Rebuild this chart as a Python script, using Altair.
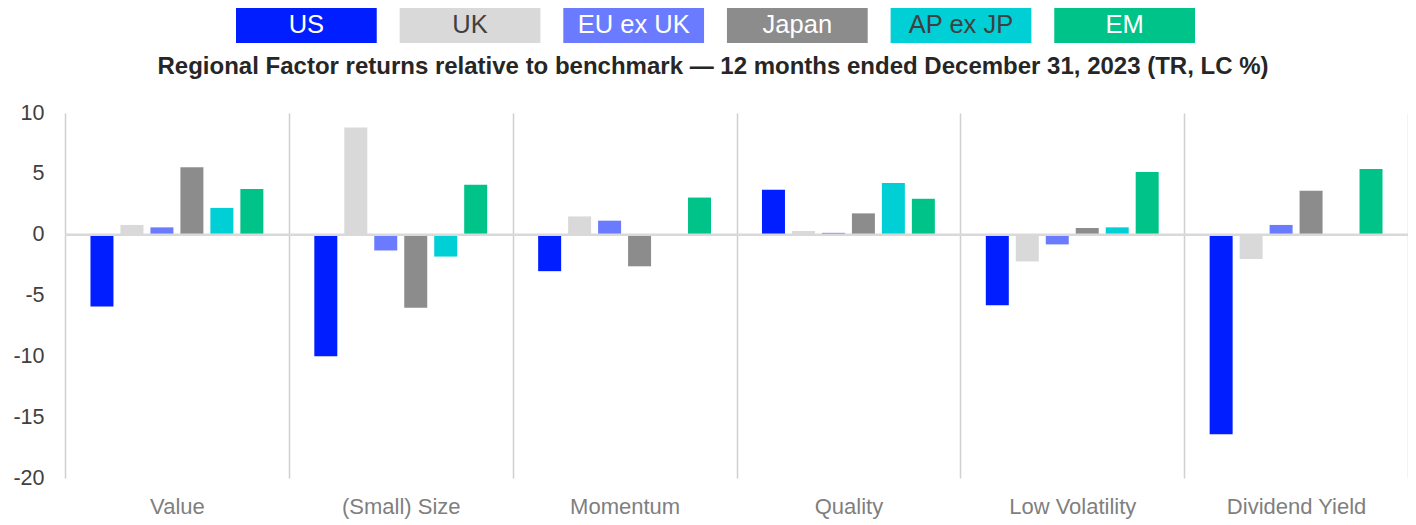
import altair as alt
import pandas as pd

FACTORS = ["Value", "(Small) Size", "Momentum", "Quality", "Low Volatility", "Dividend Yield"]
REGIONS = ["US", "UK", "EU ex UK", "Japan", "AP ex JP", "EM"]
COLORS = ["#001EFF", "#D9D9D9", "#6B7BFF", "#8C8C8C", "#00CFD6", "#00C389"]

US = [-5.9, -10.0, -3.0, 3.7, -5.8, -16.4]
UK = [0.8, 8.8, 1.5, 0.3, -2.2, -2.0]
EU_EX_UK = [0.6, -1.3, 1.15, 0.15, -0.8, 0.8]
JAPAN = [5.55, -6.0, -2.6, 1.75, 0.55, 3.6]
AP_EX_JP = [2.2, -1.8, None, 4.25, 0.6, None]
EM = [3.75, 4.1, 3.05, 2.95, 5.15, 5.4]

TITLE = "Regional Factor returns relative to benchmark \u2014 12 months ended December 31, 2023 (TR, LC %)"
Y_TICKS = [-20, -15, -10, -5, 0, 5, 10]

series = [US, UK, EU_EX_UK, JAPAN, AP_EX_JP, EM]
rows = []
for reg, vals in zip(REGIONS, series):
    for f, v in zip(FACTORS, vals):
        rows.append({"factor": f, "region": reg, "value": v})
df = pd.DataFrame(rows)
legend_df = pd.DataFrame({"region": REGIONS})

FONT = "Liberation Sans"
W, H = 1343, 365

color_scale = alt.Scale(domain=REGIONS, range=COLORS)
legend_x_scale = alt.Scale(range=[171, 1130], paddingInner=0.14, paddingOuter=0)

bars = alt.Chart(df).mark_bar().encode(
    x=alt.X("factor:N", sort=FACTORS, title=None,
            scale=alt.Scale(paddingInner=0, paddingOuter=0),
            axis=alt.Axis(grid=True, tickBand="extent", gridColor="#D0D0D0", gridWidth=1.5,
                          ticks=False, domain=False, labelAngle=0, labelFontSize=22,
                          labelColor="#7F7F7F", labelFont=FONT, labelPadding=18)),
    xOffset=alt.XOffset("region:N", sort=REGIONS,
                        scale=alt.Scale(paddingInner=0.233, paddingOuter=0.85)),
    y=alt.Y("value:Q", title=None,
            scale=alt.Scale(domain=[-20, 10], nice=False, zero=False),
            axis=alt.Axis(values=Y_TICKS, grid=False, ticks=False, domain=False,
                          labelFontSize=21.5, labelColor="#404040", labelFont=FONT,
                          labelPadding=21, labelExpr="'' + datum.value")),
    color=alt.Color("region:N", scale=color_scale, legend=None),
)

zero = alt.Chart(pd.DataFrame({"v": [0]})).mark_rule(color="#D9D9D9", strokeWidth=2.5).encode(
    y=alt.Y("v:Q", scale=alt.Scale(domain=[-20, 10], nice=False, zero=False))
)

legend_rects = alt.Chart(legend_df).mark_rect().encode(
    x=alt.X("region:N", sort=REGIONS, axis=None, scale=legend_x_scale),
    y=alt.value(-109),
    y2=alt.value(-70),
    color=alt.Color("region:N", scale=color_scale, legend=None),
)
legend_text = alt.Chart(legend_df).mark_text(fontSize=25.5, font=FONT, baseline="middle").encode(
    x=alt.X("region:N", sort=REGIONS, axis=None, bandPosition=0.5, scale=legend_x_scale),
    y=alt.value(-88),
    text="region:N",
    color=alt.condition(alt.FieldOneOfPredicate(field="region", oneOf=["UK", "AP ex JP"]),
                        alt.value("#404040"), alt.value("#FFFFFF")),
)
legend_layer = alt.layer(legend_rects, legend_text)

title = alt.Chart(legend_df.head(1)).mark_text(
    text=TITLE, fontSize=24, fontWeight="bold", font=FONT, color="#262626", baseline="middle"
).encode(x=alt.value(648), y=alt.value(-46))

chart = alt.layer(bars, zero, legend_layer, title).resolve_scale(x="independent").properties(
    width=W, height=H,
    background="white",
    autosize=alt.AutoSizeParams(type="none"),
    padding={"left": 57, "top": 105, "right": 0, "bottom": 46},
).configure_view(stroke="transparent", strokeWidth=0)

chart.save("out.html", embed_options={"renderer": "svg", "actions": False})
